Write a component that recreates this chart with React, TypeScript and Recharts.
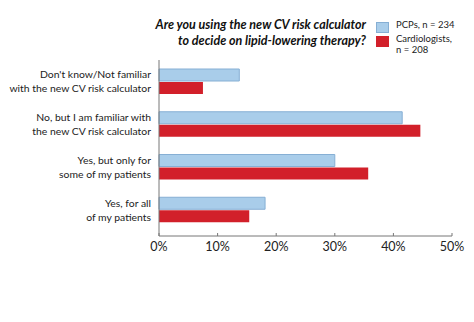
import { BarChart, Bar, XAxis, YAxis } from "recharts";

const categories = [
  "Don't know/Not familiar\nwith the new CV risk calculator",
  "No, but I am familiar with\nthe new CV risk calculator",
  "Yes, but only for\nsome of my patients",
  "Yes, for all\nof my patients",
];
const pcps = [13.7, 41.5, 30.0, 18.1];
const cardiologists = [7.5, 44.6, 35.7, 15.4];
const xTicks = [0, 10, 20, 30, 40, 50];

const data = categories.map((c, i) => ({ category: c, pcps: pcps[i], cardio: cardiologists[i] }));

const FONT = "Lato, 'Open Sans', sans-serif";
const BLUE = "#a9cdea";
const RED = "#d2202a";

function CategoryTick({ x, y, payload }: any) {
  const lines = String(payload.value).split("\n");
  return (
    <text x={x} y={y} textAnchor="end" fontFamily={FONT} fontSize={10.4} fill="#222">
      {lines.map((l, i) => (
        <tspan key={i} x={x} dy={i === 0 ? -3 : 14}>
          {l}
        </tspan>
      ))}
    </text>
  );
}

export default function App() {
  return (
    <div style={{ position: "absolute", left: 0, top: 0, width: 474, height: 322, background: "#fff" }}>
      <BarChart
        width={474}
        height={322}
        data={data}
        layout="vertical"
        margin={{ top: 60, right: 22, bottom: 56, left: 0 }}
        barSize={12}
        barGap={1}
      >
        <XAxis
          type="number"
          domain={[0, 50]}
          ticks={xTicks}
          tickFormatter={(v) => `${v}%`}
          axisLine={{ stroke: "#777" }}
          tickLine={{ stroke: "#777" }}
          tickSize={-3}
          tickMargin={9}
          height={30}
          tick={{ fill: "#222", fontFamily: FONT, fontSize: 12.5 }}
        />
        <YAxis
          type="category"
          dataKey="category"
          width={159}
          axisLine={{ stroke: "#777" }}
          tickLine={false}
          padding={{ top: 0, bottom: 5 }}
          tick={<CategoryTick />}
          interval={0}
        />
        <Bar dataKey="pcps" fill={BLUE} stroke="#86afd4" strokeWidth={1} isAnimationActive={false} />
        <Bar dataKey="cardio" fill={RED} isAnimationActive={false} />
      </BarChart>
      <div
        style={{
          position: "absolute",
          right: 108,
          top: 17,
          textAlign: "right",
          fontFamily: FONT,
          fontWeight: 700,
          fontStyle: "italic",
          fontSize: 12.5,
          lineHeight: "16px",
          color: "#111",
          whiteSpace: "nowrap",
        }}
      >
        Are you using the new CV risk calculator
        <br />
        to decide on lipid-lowering therapy?
      </div>
      <div style={{ position: "absolute", left: 376, top: 22, width: 13, height: 11, background: BLUE, border: "1px solid #86afd4", boxSizing: "border-box" }} />
      <div style={{ position: "absolute", left: 376, top: 36, width: 13, height: 11, background: RED }} />
      <div style={{ position: "absolute", left: 396, top: 19, fontFamily: FONT, fontSize: 9.5, lineHeight: "12px", color: "#222", whiteSpace: "nowrap" }}>
        PCPs, n = 234
      </div>
      <div style={{ position: "absolute", left: 396, top: 33, fontFamily: FONT, fontSize: 9.5, lineHeight: "11px", color: "#222", whiteSpace: "nowrap" }}>
        Cardiologists,
        <br />
        n = 208
      </div>
    </div>
  );
}
